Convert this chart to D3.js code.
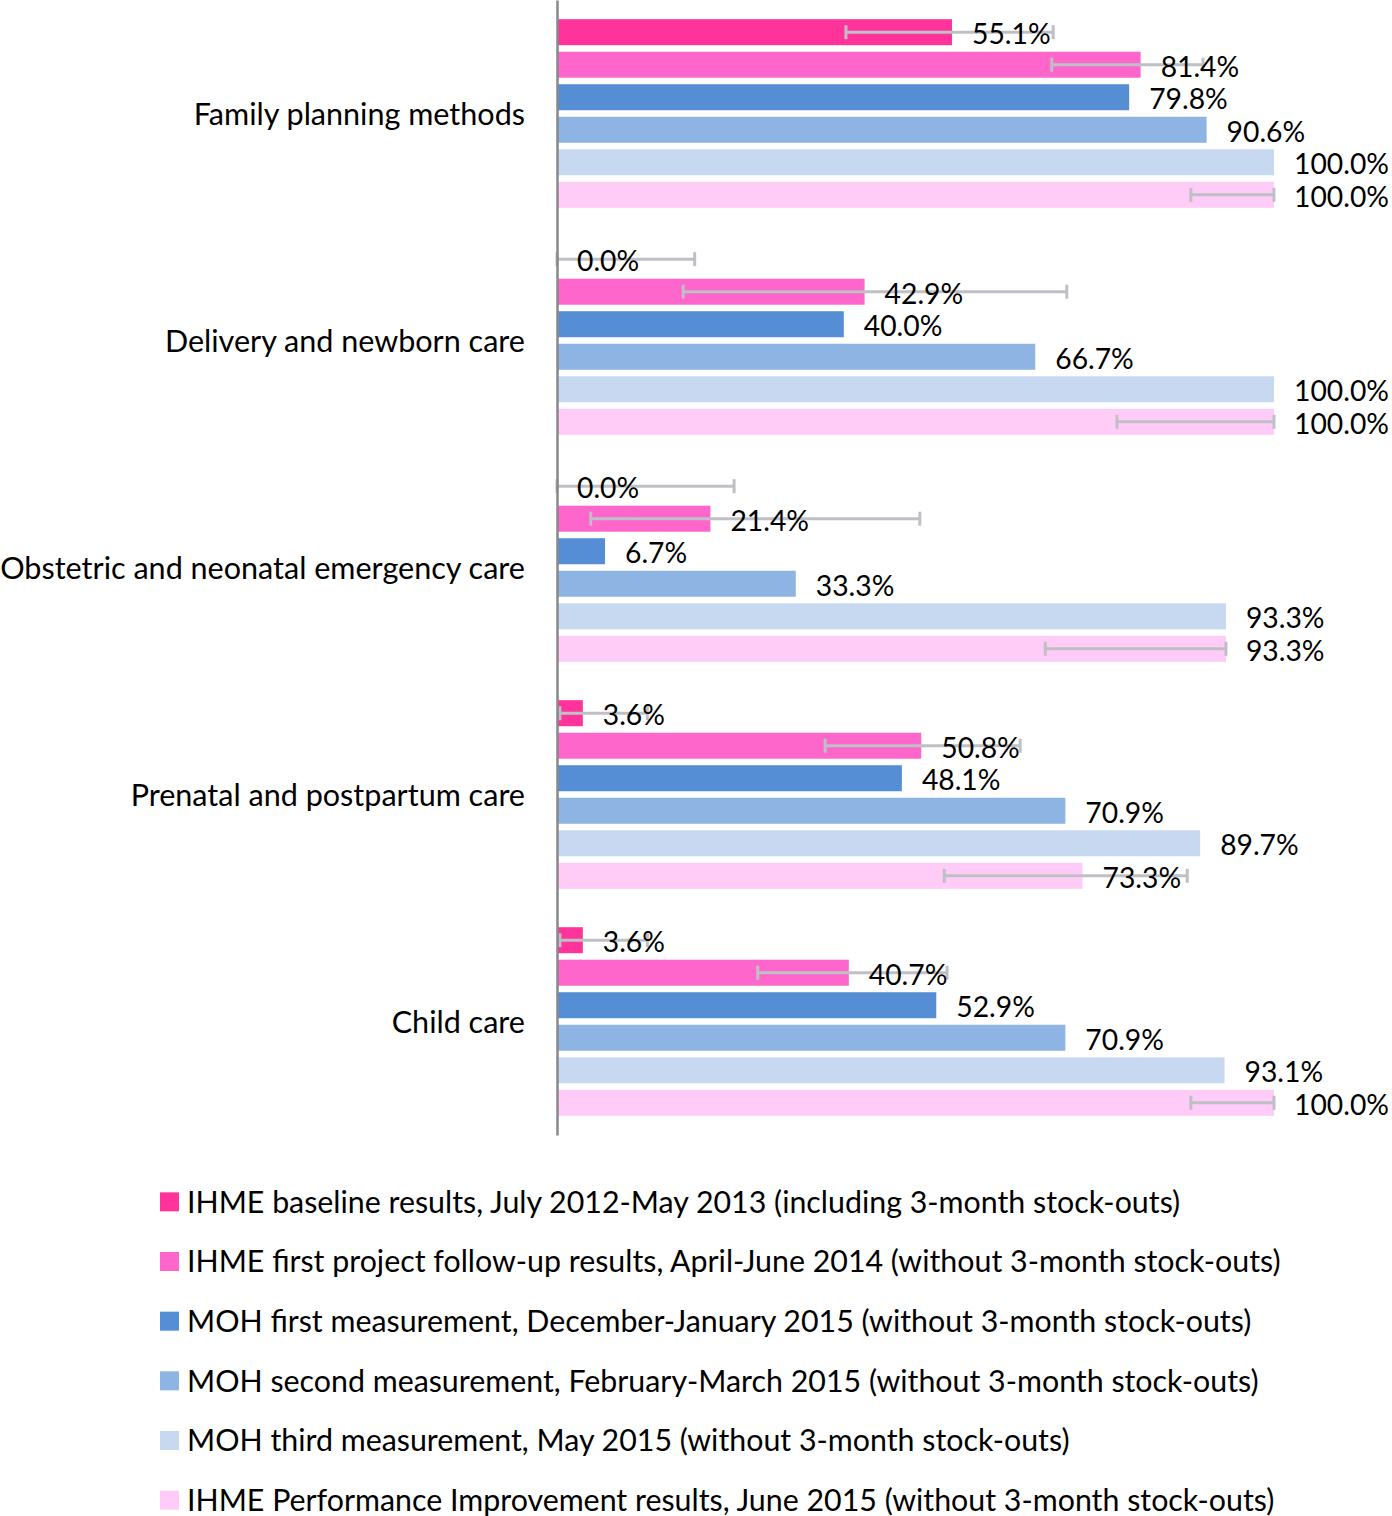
<!DOCTYPE html>
<html>
<head>
<meta charset="utf-8">
<script src="https://cdn.jsdelivr.net/npm/d3@7"></script>
<style>
  html, body { margin: 0; padding: 0; background: #fff; }
  svg text { font-family: Lato, "Noto Sans", sans-serif; fill: #000; }
</style>
</head>
<body>
<svg id="chart" width="1392" height="1516"></svg>
<script>
const categories = [
  "Family planning methods",
  "Delivery and newborn care",
  "Obstetric and neonatal emergency care",
  "Prenatal and postpartum care",
  "Child care"
];
const seriesNames = [
  "IHME baseline results, July 2012-May 2013 (including 3-month stock-outs)",
  "IHME first project follow-up results, April-June 2014 (without 3-month stock-outs)",
  "MOH first measurement, December-January 2015 (without 3-month stock-outs)",
  "MOH second measurement, February-March 2015 (without 3-month stock-outs)",
  "MOH third measurement, May 2015 (without 3-month stock-outs)",
  "IHME Performance Improvement results, June 2015 (without 3-month stock-outs)"
];
const seriesColors = ["#FF3399", "#FF66CC", "#558ED5", "#8EB4E3", "#C6D9F1", "#FFCCF8"];

const baseline   = [55.1, 0.0, 0.0, 3.6, 3.6];
const followUp   = [81.4, 42.9, 21.4, 50.8, 40.7];
const mohFirst   = [79.8, 40.0, 6.7, 48.1, 52.9];
const mohSecond  = [90.6, 66.7, 33.3, 70.9, 70.9];
const mohThird   = [100.0, 100.0, 93.3, 89.7, 93.1];
const perfImprov = [100.0, 100.0, 93.3, 73.3, 100.0];

// error bar ranges (only for IHME series)
const baselineLow  = [40.3, 0.0, 0.0, 0.4, 0.4];
const baselineHigh = [69.2, 19.2, 24.7, 12.6, 12.6];
const followUpLow  = [69.0, 17.6, 4.7, 37.4, 28.0];
const followUpHigh = [90.1, 71.1, 50.6, 64.6, 54.4];
const perfLow      = [88.4, 78.1, 68.1, 54.0, 88.4];
const perfHigh     = [100.0, 100.0, 93.3, 87.9, 100.0];

const seriesValues = [baseline, followUp, mohFirst, mohSecond, mohThird, perfImprov];
const errorBars = [
  {s: 0, low: baselineLow, high: baselineHigh},
  {s: 1, low: followUpLow, high: followUpHigh},
  {s: 5, low: perfLow, high: perfHigh}
];

const svg = d3.select("#chart");

// font sizing: fit texts to the reference widths
const fontFamily = "Lato, 'Noto Sans', sans-serif";
function fitSize(str, targetWidth) {
  const probe = svg.append("text").attr("font-size", 100).text(str);
  const w = probe.node().getComputedTextLength();
  probe.remove();
  return 100 * targetWidth / w;
}
const catFont = fitSize(categories[2], 525);
const valFont = fitSize("100.0%", 95);
const legFont = fitSize(seriesNames[1], 1094);

const x = d3.scaleLinear().domain([0, 100]).range([557, 1274]);
const y0 = d3.scaleBand().domain(categories).range([0, 1135]).padding(0);
const y1 = d3.scaleBand().domain(d3.range(6)).range([0, y0.bandwidth()])
  .paddingInner(0.2).paddingOuter(0.59);

const rows = [];
seriesValues.forEach((vals, s) => vals.forEach((v, c) => rows.push({s, c, v})));

const g = svg.append("g");

// bars
g.selectAll("rect.bar").data(rows).join("rect")
  .attr("class", "bar")
  .attr("x", x(0))
  .attr("y", d => y0(categories[d.c]) + y1(d.s))
  .attr("width", d => x(d.v) - x(0))
  .attr("height", y1.bandwidth())
  .attr("fill", d => seriesColors[d.s]);

// error bars
const errRows = [];
errorBars.forEach(e => e.low.forEach((lo, c) => errRows.push({s: e.s, c, lo, hi: e.high[c]})));
const errColor = "#BFBFC6";
const capH = 14;
const eg = g.append("g");
errRows.forEach(d => {
  const cy = y0(categories[d.c]) + y1(d.s) + y1.bandwidth() / 2;
  eg.append("line").attr("x1", x(d.lo)).attr("x2", x(d.hi)).attr("y1", cy).attr("y2", cy)
    .attr("stroke", errColor).attr("stroke-width", 3);
  [d.lo, d.hi].forEach(v => {
    eg.append("line").attr("x1", x(v)).attr("x2", x(v))
      .attr("y1", cy - capH / 2).attr("y2", cy + capH / 2)
      .attr("stroke", errColor).attr("stroke-width", 3);
  });
});

// axis with category labels
const axis = svg.append("g")
  .attr("transform", `translate(${x(0)},0)`)
  .call(d3.axisLeft(y0).tickSize(0).tickPadding(32));
axis.select(".domain").attr("stroke", "#888").attr("stroke-width", 2.5);
axis.selectAll(".tick text")
  .attr("font-size", catFont)
  .attr("font-family", fontFamily)
  .attr("fill", "#000")
  .attr("dy", "0.36em");

// value labels
g.selectAll("text.val").data(rows).join("text")
  .attr("class", "val")
  .attr("x", d => x(d.v) + 20)
  .attr("y", d => y0(categories[d.c]) + y1(d.s) + y1.bandwidth() / 2)
  .attr("dy", "0.42em")
  .attr("font-size", valFont)
  .text(d => d.v.toFixed(1) + "%");

// legend
const legendY = d3.scaleBand().domain(d3.range(6)).range([1172, 1530]);
const lg = svg.append("g");
seriesNames.forEach((name, i) => {
  const cy = legendY(i) + legendY.bandwidth() / 2;
  lg.append("rect").attr("x", 160).attr("y", cy - 9.5).attr("width", 19).attr("height", 19)
    .attr("fill", seriesColors[i]);
  lg.append("text").attr("x", 187).attr("y", cy).attr("dy", "0.36em")
    .attr("font-size", legFont).text(name);
});
</script>
</body>
</html>
